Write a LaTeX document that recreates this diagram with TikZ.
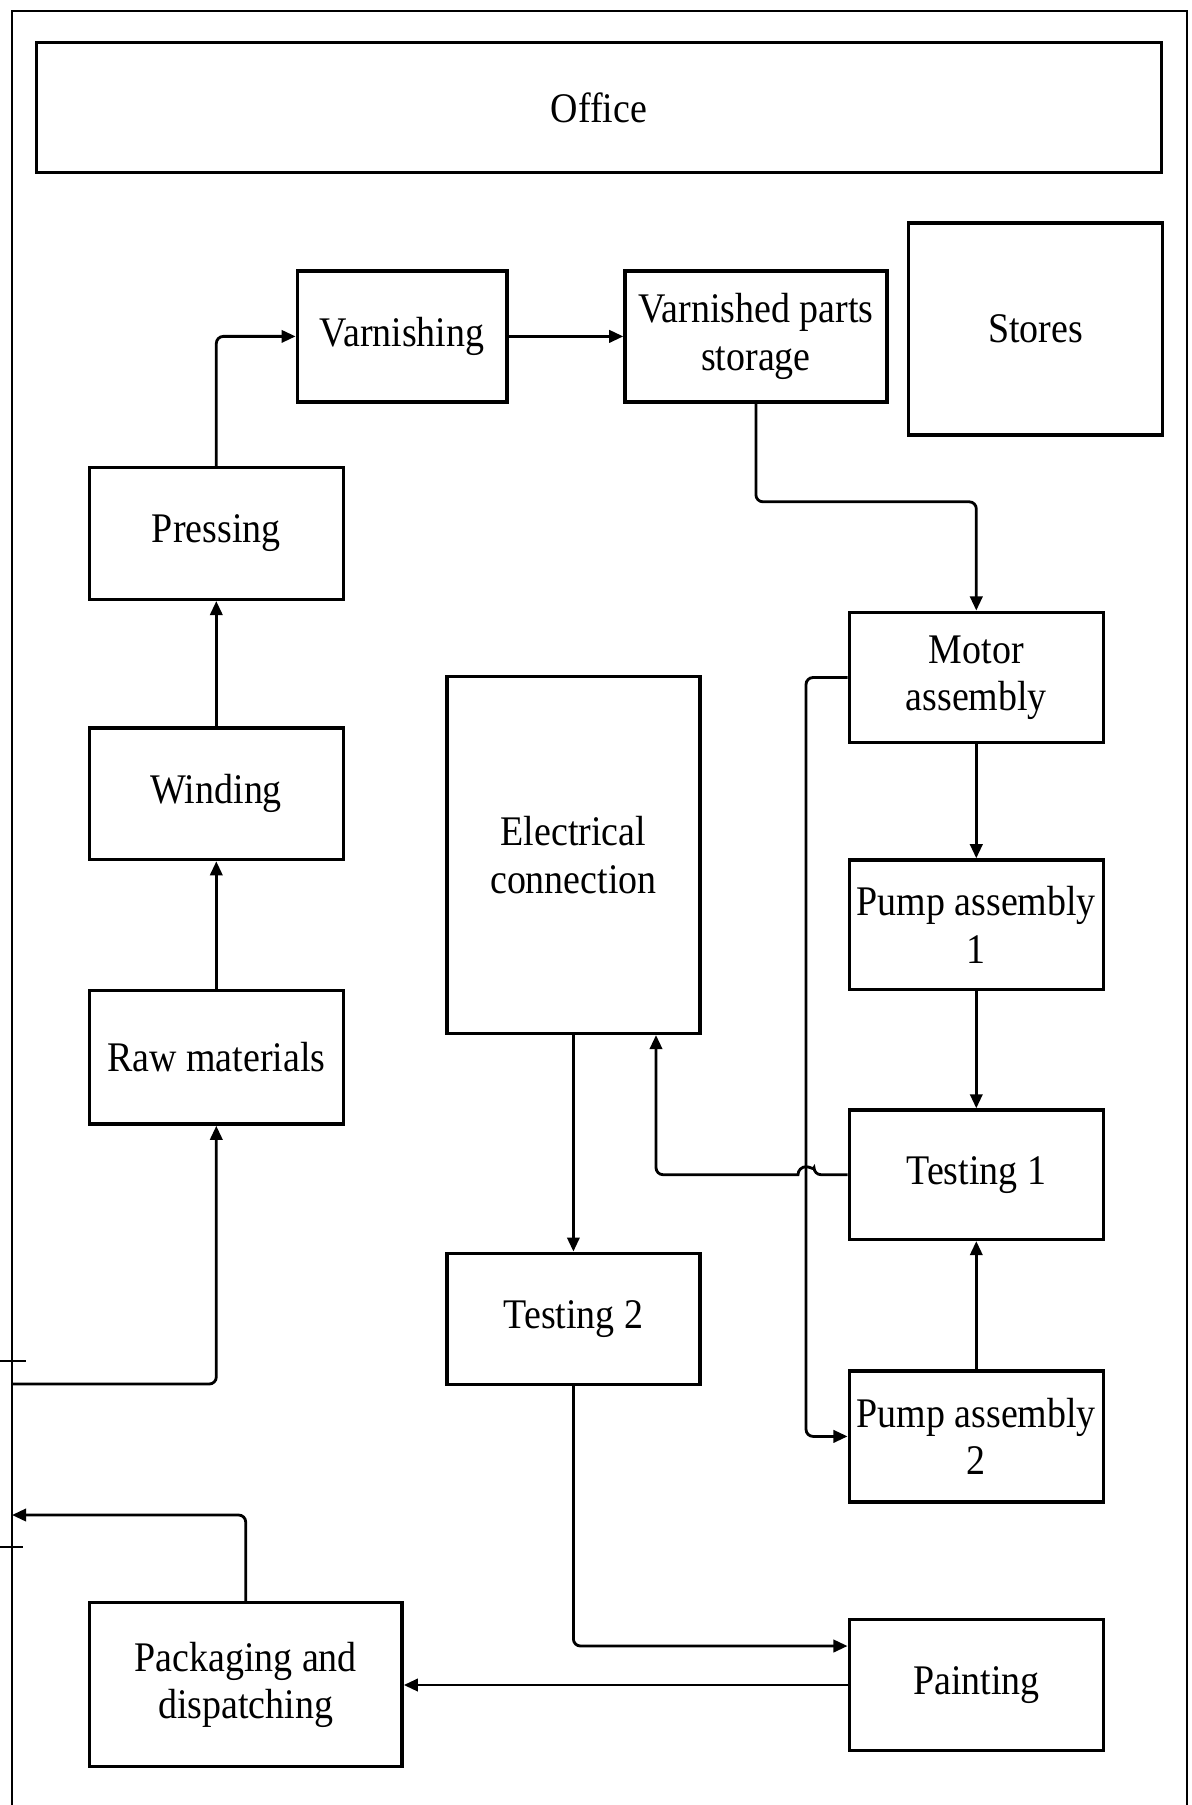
\documentclass[tikz,border=0pt]{standalone}
\usepackage{fontspec}
\setmainfont{Liberation Serif}[FakeStretch=0.9]
\usetikzlibrary{arrows.meta,calc}
\begin{document}
\begin{tikzpicture}[x=0.02cm,y=-0.02cm,
  box/.style={draw, line width=2pt, inner sep=0pt, align=center,
    font=\fontsize{24}{27}\selectfont},
  size/.style 2 args={minimum width={#1*0.02cm}, minimum height={#2*0.02cm}},
  link/.style={line width=1.6pt, rounded corners=4pt},
  arr/.style={link, -{Triangle[length=8pt,width=7pt]}},
  wall/.style={line width=1.4pt}]
\useasboundingbox (0,0) rectangle (1192,1805);

% building outline and door marks
\draw[wall] (12,1805) -- (12,11) -- (1187,11) -- (1187,1805);
\draw[wall] (0,1361) -- (26,1361);
\draw[wall] (0,1547) -- (23,1547);

% rooms / stations
\node[box, size={1125}{130.4}] (office) at (599,107.5) {Office};
\node[box, size={209.7}{130.7}] (varn) at (402.2,336.4) {Varnishing};
\node[box, size={261.7}{130.7}] (vps) at (755.9,336.4) {Varnished parts\\storage};
\node[box, size={254.4}{212.3}] (stores) at (1035.5,328.9) {Stores};
\node[box, size={254}{131.6}] (press) at (216.3,533.5) {Pressing};
\node[box, size={254}{131.5}] (wind) at (216.3,793.8) {Winding};
\node[box, size={254}{133.5}] (raw) at (216.3,1057.3) {Raw materials};
\node[box, size={312.7}{164}] (pack) at (245.7,1684.7) {Packaging and\\dispatching};
\node[box, size={253.3}{356.6}] (elec) at (573.4,855) {Electrical\\connection};
\node[box, size={253.3}{131}] (test2) at (573.4,1318.8) {Testing 2};
\node[box, size={254}{130.4}] (motor) at (976.3,677.5) {Motor\\assembly};
\node[box, size={254}{129.3}] (pump1) at (976.3,924.7) {Pump assembly\\1};
\node[box, size={254}{129.3}] (test1) at (976.3,1174.7) {Testing 1};
\node[box, size={254}{130.7}] (pump2) at (976.3,1436.4) {Pump assembly\\2};
\node[box, size={254}{131.4}] (paint) at (976.3,1685) {Painting};

% routing helpers
\coordinate (in) at (12,1384);
\coordinate (out) at (12,1515);
\coordinate (bus) at (806,0);
\coordinate (eret) at (656,0);

% material flow
\draw[arr] (in) -| (raw.south);
\draw[arr] (raw) -- (wind);
\draw[arr] (wind) -- (press);
\draw[arr] (press.north) |- (varn.west);
\draw[arr] (varn.east) -- (vps.west);
\draw[arr] (vps.south) -- ++(0,98.3) -| (motor.north);
\draw[arr] (motor) -- (pump1);
\draw[arr] (pump1) -- (test1);
\draw[arr] (pump2) -- (test1);
\draw[arr] (motor.west) -| (bus |- pump2.west) -- (pump2.west);
\draw[arr] (test1.west) -- ($(bus |- test1.west)+(8,0)$)
  [sharp corners] arc[start angle=0, end angle=-180, radius=8]
  [rounded corners=4pt] -| (eret |- elec.south);
\draw[arr] (elec) -- (test2);
\draw[arr] (test2.south) |- ($(paint.west)+(0,-39)$);
\draw[arr] (paint.west) -- (paint.west -| pack.east);
\draw[arr] (pack.north) |- (out);
\end{tikzpicture}
\end{document}
